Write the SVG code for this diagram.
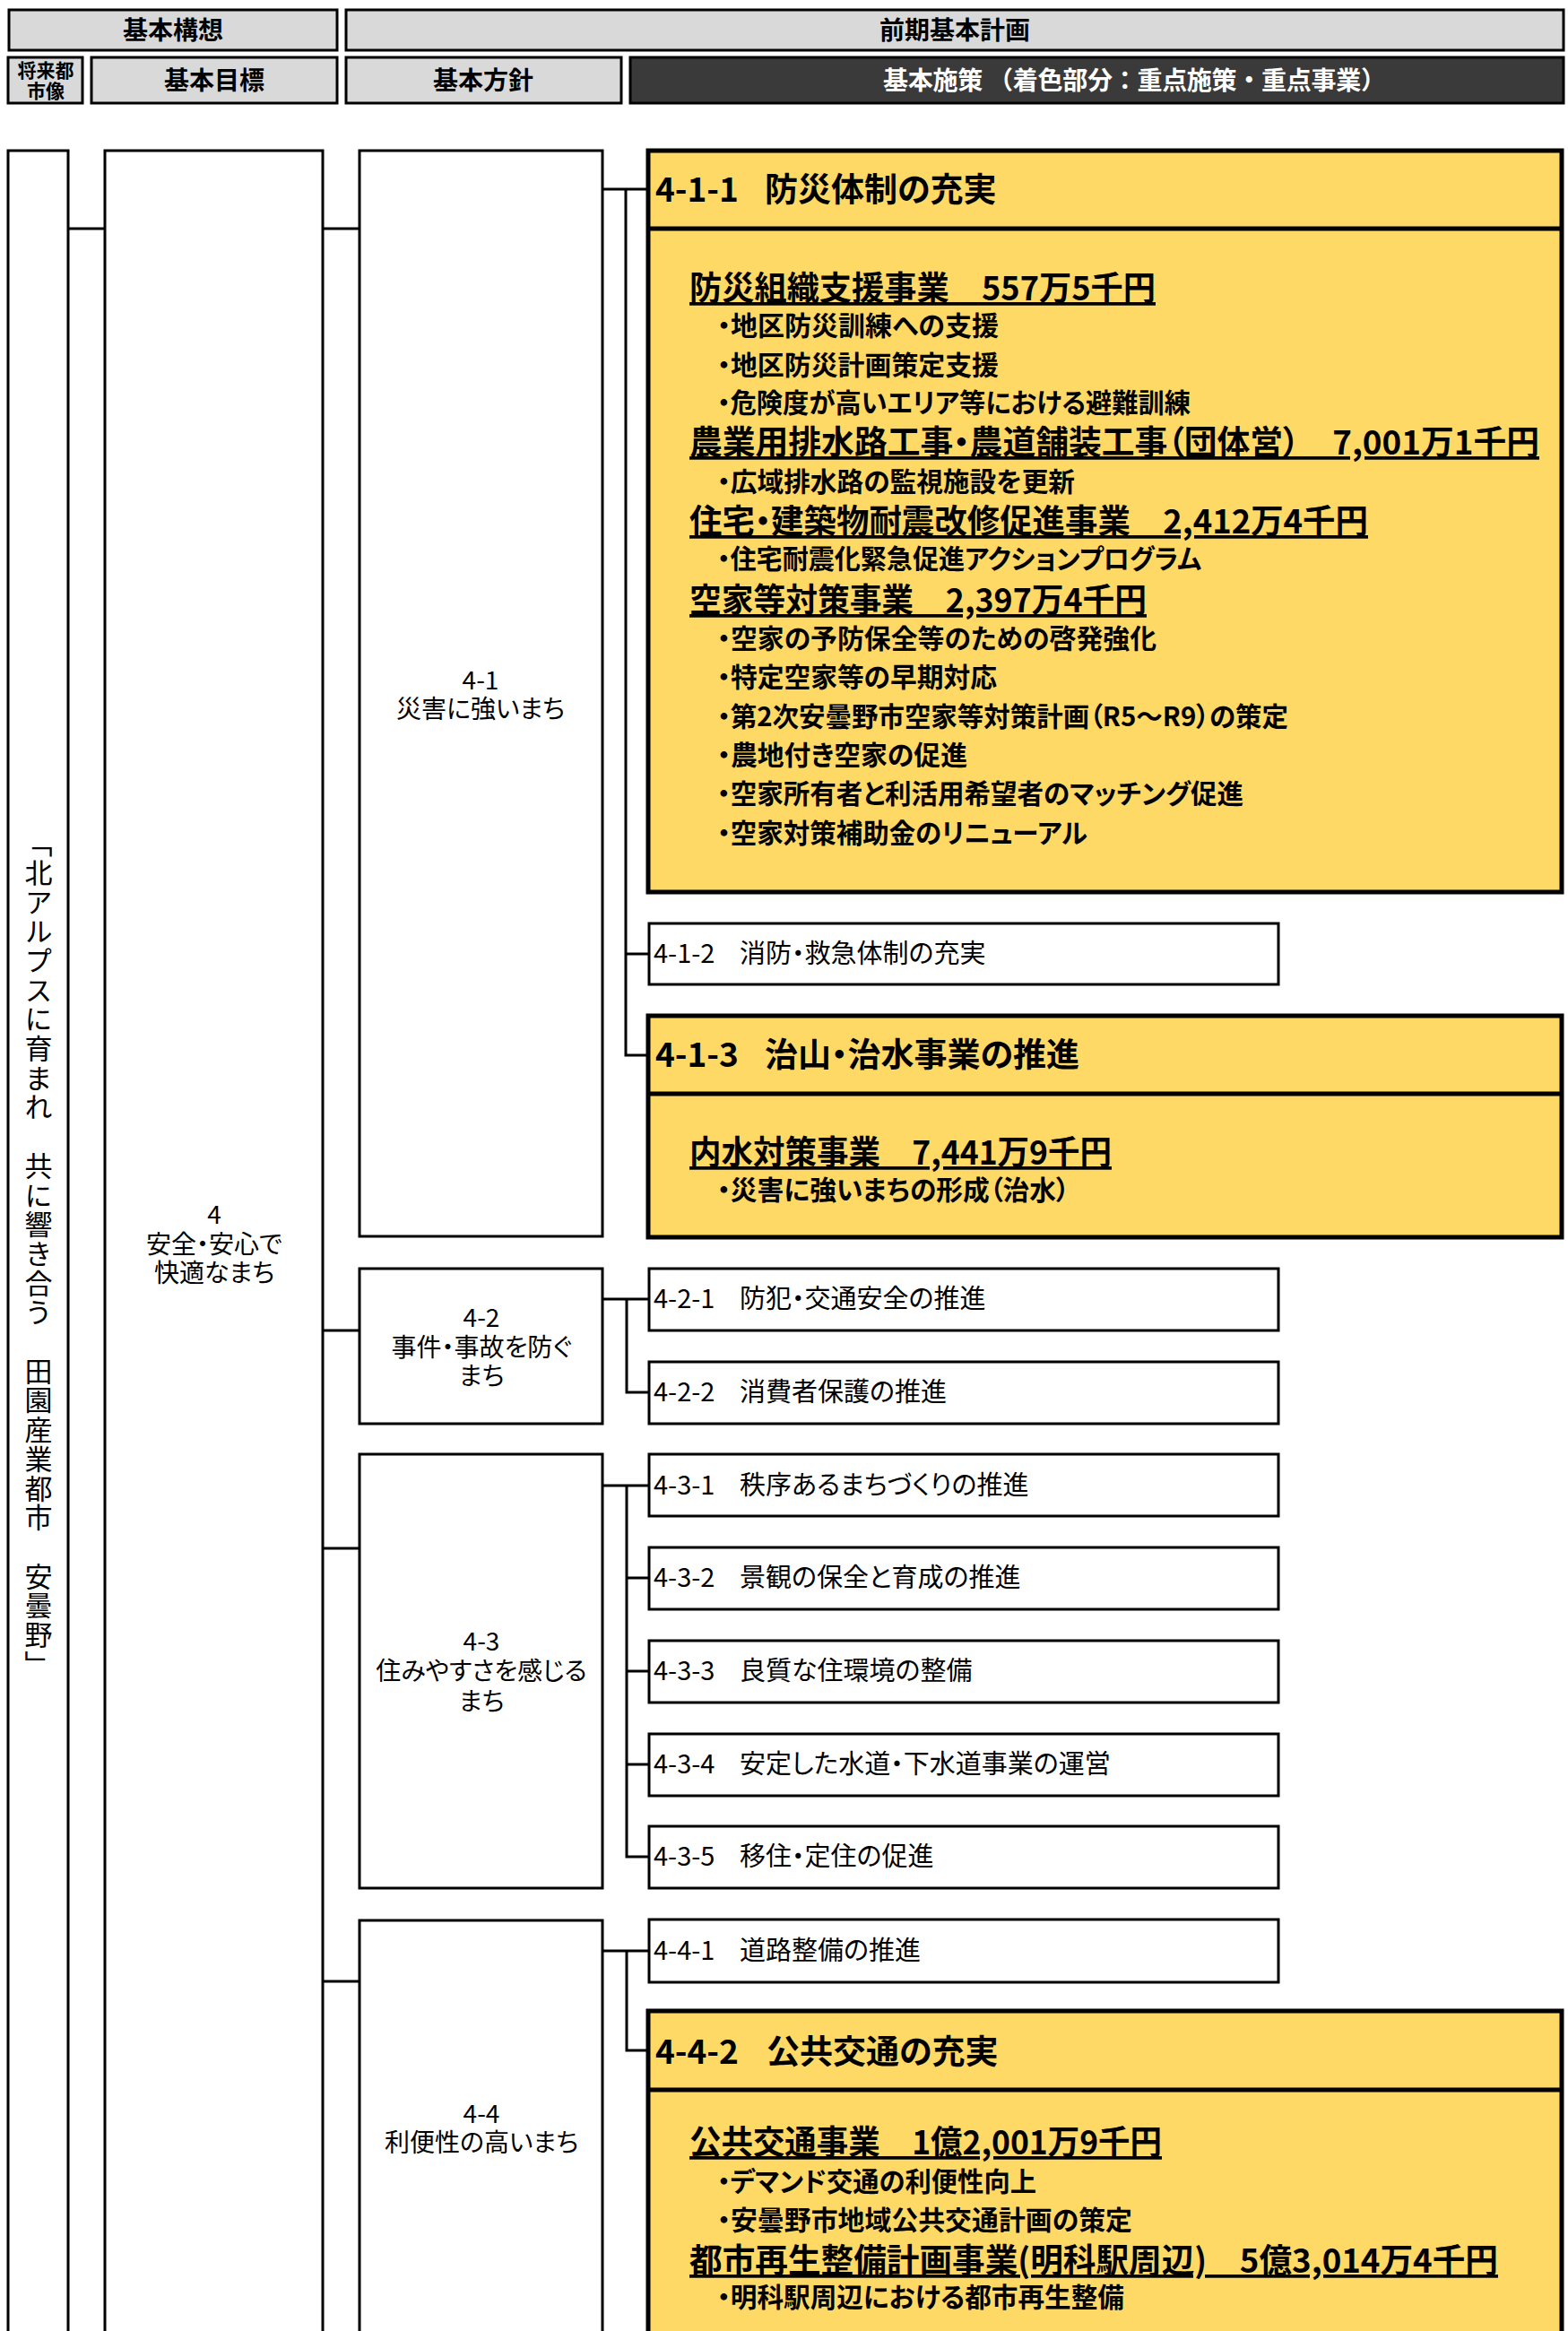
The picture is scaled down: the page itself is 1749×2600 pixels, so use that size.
<svg xmlns="http://www.w3.org/2000/svg" width="1749" height="2600" viewBox="0 0 1749 2600">
<style>
text{font-family:"Noto Sans CJK JP","Noto Sans",sans-serif;font-feature-settings:"palt" 1;fill:#000}
.box{fill:#fff;stroke:#000;stroke-width:3}
.ybox{fill:#FFD966;stroke:#000;stroke-width:5}
.div{stroke:#000;stroke-width:5}
.hdr{fill:#d9d9d9;stroke:#000;stroke-width:3}
.dark{fill:#3a3a3a;stroke:#000;stroke-width:3}
.conn{stroke:#000;stroke-width:3;fill:none}
.hb{font-size:28px;font-weight:700}
.hw{font-size:28px;font-weight:700;fill:#fff;font-feature-settings:normal}
.sm{font-size:21px;font-weight:700}
.t28{font-size:28px}
.item{font-size:29px}
.ih{font-size:37px;font-weight:700}
.proj{font-size:37px;font-weight:700;text-decoration:underline}
.bul{font-size:30px;font-weight:700}
.vt{font-size:31px;letter-spacing:1.7px;writing-mode:vertical-rl;font-feature-settings:normal}
</style>

<g id="header">
  <rect class="hdr" x="10" y="11" width="366" height="45"/>
  <text class="hb" x="193" y="44" text-anchor="middle">基本構想</text>
  <rect class="hdr" x="386" y="11" width="1358" height="45"/>
  <text class="hb" x="1065" y="44" text-anchor="middle">前期基本計画</text>
  <rect class="hdr" x="9" y="64" width="83" height="51"/>
  <text class="sm" x="51" y="86" text-anchor="middle">将来都</text>
  <text class="sm" x="51" y="109" text-anchor="middle">市像</text>
  <rect class="hdr" x="102" y="64" width="274" height="51"/>
  <text class="hb" x="239" y="100" text-anchor="middle">基本目標</text>
  <rect class="hdr" x="386" y="64" width="307" height="51"/>
  <text class="hb" x="539" y="100" text-anchor="middle">基本方針</text>
  <rect class="dark" x="703" y="64" width="1041" height="51"/>
  <text class="hw" x="985" y="100" textLength="561" lengthAdjust="spacing">基本施策 （着色部分：重点施策・重点事業）</text>
</g>

<g id="connectors">
  <path class="conn" d="M76,255 H117"/>
  <path class="conn" d="M360,255 H401 M360,1484 H401 M360,1727 H401 M360,2210 H401"/>
  <path class="conn" d="M672,211 H723 M698,211 V1177 H723 M698,1064 H724"/>
  <path class="conn" d="M672,1449 H724 M699,1449 V1553 H724"/>
  <path class="conn" d="M672,1657 H724 M699,1657 V2071 H724 M699,1760 H724 M699,1864 H724 M699,1968 H724"/>
  <path class="conn" d="M672,2176 H725 M699,2176 V2287 H725"/>
</g>

<g id="vision">
  <rect class="box" x="9" y="168" width="67" height="2500"/>
  <text class="vt" x="43" y="1399" text-anchor="middle">「北アルプスに育まれ　共に響き合う　田園産業都市　安曇野」</text>
</g>

<g id="goal-4">
  <rect class="box" x="117" y="168" width="243" height="2500"/>
  <text class="t28" x="239" y="1365" text-anchor="middle">4</text>
  <text class="t28" x="239" y="1398" text-anchor="middle">安全・安心で</text>
  <text class="t28" x="239" y="1430" text-anchor="middle">快適なまち</text>
</g>

<g id="policy-4-1">
  <rect class="box" x="401" y="168" width="271" height="1211"/>
  <text class="t28" x="536" y="769" text-anchor="middle">4-1</text>
  <text class="t28" x="536" y="801" text-anchor="middle">災害に強いまち</text>
</g>
<g id="policy-4-2">
  <rect class="box" x="401" y="1415" width="271" height="173"/>
  <text class="t28" x="537" y="1480" text-anchor="middle">4-2</text>
  <text class="t28" x="537" y="1513" text-anchor="middle">事件・事故を防ぐ</text>
  <text class="t28" x="537" y="1545" text-anchor="middle">まち</text>
</g>
<g id="policy-4-3">
  <rect class="box" x="401" y="1622" width="271" height="484"/>
  <text class="t28" x="537" y="1841" text-anchor="middle">4-3</text>
  <text class="t28" x="537" y="1874" text-anchor="middle">住みやすさを感じる</text>
  <text class="t28" x="537" y="1908" text-anchor="middle">まち</text>
</g>
<g id="policy-4-4">
  <rect class="box" x="401" y="2142" width="271" height="520"/>
  <text class="t28" x="537" y="2368" text-anchor="middle">4-4</text>
  <text class="t28" x="537" y="2400" text-anchor="middle">利便性の高いまち</text>
</g>

<g id="measure-4-1-1">
  <rect class="ybox" x="723" y="168" width="1019" height="827"/>
  <line class="div" x1="723" y1="255" x2="1742" y2="255"/>
  <text class="ih" x="731" y="225">4-1-1<tspan x="853">防災体制の充実</tspan></text>
  <text class="proj" x="769" y="335" textLength="520" lengthAdjust="spacingAndGlyphs">防災組織支援事業　557万5千円</text>
  <text class="bul" x="800" y="374" textLength="314" lengthAdjust="spacingAndGlyphs">・地区防災訓練への支援</text>
  <text class="bul" x="800" y="418" textLength="314" lengthAdjust="spacingAndGlyphs">・地区防災計画策定支援</text>
  <text class="bul" x="800" y="460" textLength="528" lengthAdjust="spacingAndGlyphs">・危険度が高いエリア等における避難訓練</text>
  <text class="proj" x="769" y="507" textLength="948" lengthAdjust="spacingAndGlyphs">農業用排水路工事・農道舗装工事（団体営）　7,001万1千円</text>
  <text class="bul" x="800" y="548" textLength="399" lengthAdjust="spacingAndGlyphs">・広域排水路の監視施設を更新</text>
  <text class="proj" x="769" y="595" textLength="757" lengthAdjust="spacingAndGlyphs">住宅・建築物耐震改修促進事業　2,412万4千円</text>
  <text class="bul" x="800" y="634" textLength="540" lengthAdjust="spacingAndGlyphs">・住宅耐震化緊急促進アクションプログラム</text>
  <text class="proj" x="769" y="683" textLength="510" lengthAdjust="spacingAndGlyphs">空家等対策事業　2,397万4千円</text>
  <text class="bul" x="800" y="723" textLength="490" lengthAdjust="spacingAndGlyphs">・空家の予防保全等のための啓発強化</text>
  <text class="bul" x="800" y="766" textLength="312" lengthAdjust="spacingAndGlyphs">・特定空家等の早期対応</text>
  <text class="bul" x="800" y="810" textLength="637" lengthAdjust="spacingAndGlyphs">・第2次安曇野市空家等対策計画（R5～R9）の策定</text>
  <text class="bul" x="800" y="853" textLength="279" lengthAdjust="spacingAndGlyphs">・農地付き空家の促進</text>
  <text class="bul" x="800" y="896" textLength="587" lengthAdjust="spacingAndGlyphs">・空家所有者と利活用希望者のマッチング促進</text>
  <text class="bul" x="800" y="940" textLength="413" lengthAdjust="spacingAndGlyphs">・空家対策補助金のリニューアル</text>
</g>

<g id="measure-4-1-2">
  <rect class="box" x="724" y="1030" width="702" height="68"/>
  <text class="item" x="729" y="1074">4-1-2<tspan x="825">消防・救急体制の充実</tspan></text>
</g>

<g id="measure-4-1-3">
  <rect class="ybox" x="723" y="1133" width="1019" height="247"/>
  <line class="div" x1="723" y1="1220" x2="1742" y2="1220"/>
  <text class="ih" x="731" y="1190">4-1-3<tspan x="853">治山・治水事業の推進</tspan></text>
  <text class="proj" x="769" y="1299" textLength="471" lengthAdjust="spacingAndGlyphs">内水対策事業　7,441万9千円</text>
  <text class="bul" x="800" y="1338" textLength="393" lengthAdjust="spacingAndGlyphs">・災害に強いまちの形成（治水）</text>
</g>

<g id="measure-4-2-1">
  <rect class="box" x="724" y="1415" width="702" height="69"/>
  <text class="item" x="729" y="1459">4-2-1<tspan x="825">防犯・交通安全の推進</tspan></text>
</g>
<g id="measure-4-2-2">
  <rect class="box" x="724" y="1519" width="702" height="69"/>
  <text class="item" x="729" y="1563">4-2-2<tspan x="825">消費者保護の推進</tspan></text>
</g>
<g id="measure-4-3-1">
  <rect class="box" x="724" y="1622" width="702" height="69"/>
  <text class="item" x="729" y="1667">4-3-1<tspan x="825">秩序あるまちづくりの推進</tspan></text>
</g>
<g id="measure-4-3-2">
  <rect class="box" x="724" y="1726" width="702" height="69"/>
  <text class="item" x="729" y="1770">4-3-2<tspan x="825">景観の保全と育成の推進</tspan></text>
</g>
<g id="measure-4-3-3">
  <rect class="box" x="724" y="1830" width="702" height="69"/>
  <text class="item" x="729" y="1874">4-3-3<tspan x="825">良質な住環境の整備</tspan></text>
</g>
<g id="measure-4-3-4">
  <rect class="box" x="724" y="1934" width="702" height="69"/>
  <text class="item" x="729" y="1978">4-3-4<tspan x="825">安定した水道・下水道事業の運営</tspan></text>
</g>
<g id="measure-4-3-5">
  <rect class="box" x="724" y="2037" width="702" height="69"/>
  <text class="item" x="729" y="2081">4-3-5<tspan x="825">移住・定住の促進</tspan></text>
</g>
<g id="measure-4-4-1">
  <rect class="box" x="724" y="2141" width="702" height="70"/>
  <text class="item" x="729" y="2186">4-4-1<tspan x="825">道路整備の推進</tspan></text>
</g>

<g id="measure-4-4-2">
  <rect class="ybox" x="723" y="2243" width="1019" height="420"/>
  <line class="div" x1="723" y1="2331" x2="1742" y2="2331"/>
  <text class="ih" x="731" y="2302">4-4-2<tspan x="855">公共交通の充実</tspan></text>
  <text class="proj" x="769" y="2403" textLength="527" lengthAdjust="spacingAndGlyphs">公共交通事業　1億2,001万9千円</text>
  <text class="bul" x="800" y="2444" textLength="356" lengthAdjust="spacingAndGlyphs">・デマンド交通の利便性向上</text>
  <text class="bul" x="800" y="2487" textLength="463" lengthAdjust="spacingAndGlyphs">・安曇野市地域公共交通計画の策定</text>
  <text class="proj" x="769" y="2535" textLength="902" lengthAdjust="spacingAndGlyphs">都市再生整備計画事業(明科駅周辺)　5億3,014万4千円</text>
  <text class="bul" x="800" y="2573" textLength="454" lengthAdjust="spacingAndGlyphs">・明科駅周辺における都市再生整備</text>
</g>
</svg>
